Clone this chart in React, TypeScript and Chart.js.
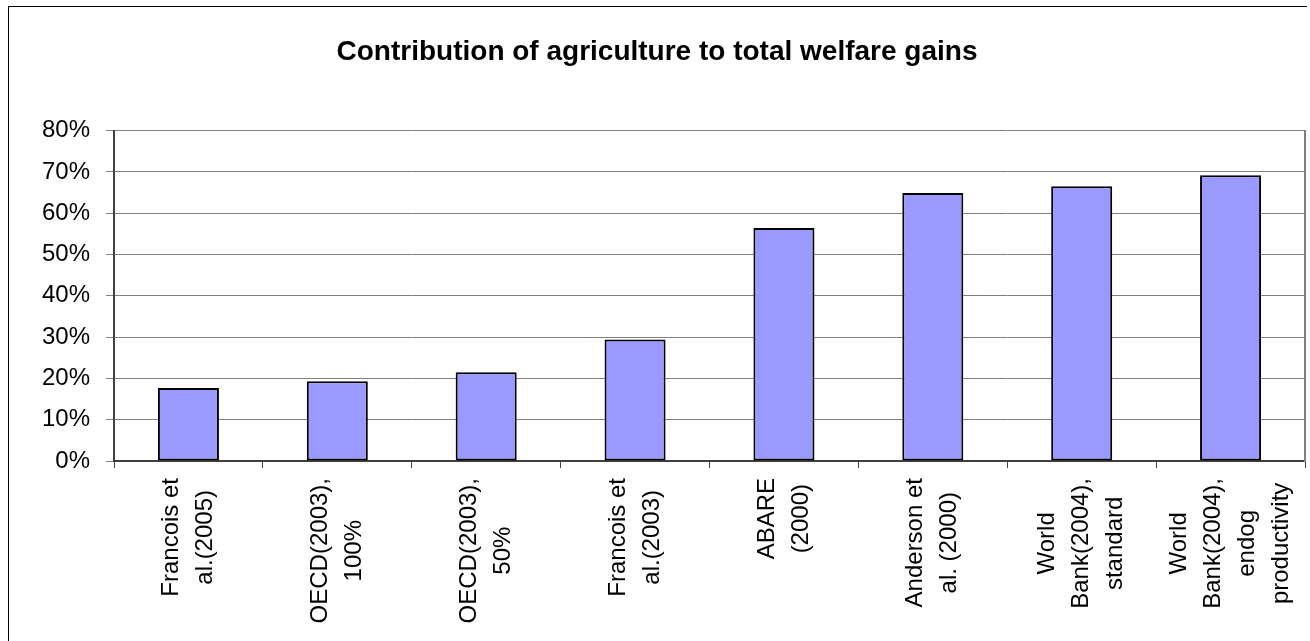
import React, { useEffect, useRef } from "react";
import { Chart, registerables } from "chart.js";

Chart.register(...registerables);

const FONT = "Arial, 'Liberation Sans', sans-serif";

const TITLE = "Contribution of agriculture to total welfare gains";

const categories: string[][] = [
  ["Francois et", "al.(2005)"],
  ["OECD(2003),", "100%"],
  ["OECD(2003),", "50%"],
  ["Francois et", "al.(2003)"],
  ["ABARE", "(2000)"],
  ["Anderson et", "al. (2000)"],
  ["World", "Bank(2004),", "standard"],
  ["World", "Bank(2004),", "endog", "productivity"],
];

const shares: number[] = [0.177, 0.193, 0.215, 0.294, 0.564, 0.649, 0.665, 0.692];

const yTicks: number[] = [0, 0.1, 0.2, 0.3, 0.4, 0.5, 0.6, 0.7, 0.8];

const centeredXLabels = {
  id: "centeredXLabels",
  afterDraw(chart: any) {
    const sc = chart.scales.x;
    const ctx = chart.ctx;
    const lineH = 34;
    ctx.save();
    ctx.font = `24px ${FONT}`;
    ctx.fillStyle = "#000";
    ctx.textAlign = "center";
    ctx.textBaseline = "middle";
    const labels = chart.data.labels as string[][];
    labels.forEach((lines, i) => {
      const x = sc.getPixelForTick(i);
      let maxW = 0;
      lines.forEach((l) => {
        maxW = Math.max(maxW, ctx.measureText(l).width);
      });
      ctx.save();
      ctx.translate(x, sc.top + 17 + maxW / 2);
      ctx.rotate(-Math.PI / 2);
      const n = lines.length;
      lines.forEach((l, j) => {
        ctx.fillText(l, 0, (j - (n - 1) / 2) * lineH);
      });
      ctx.restore();
    });
    ctx.restore();
  },
};

export default function App() {
  const ref = useRef<HTMLCanvasElement | null>(null);

  useEffect(() => {
    if (!ref.current) return;
    Chart.defaults.font.family = FONT;
    const chart = new Chart(ref.current, {
      type: "bar",
      data: {
        labels: categories,
        datasets: [
          {
            data: shares,
            backgroundColor: "#9999FF",
            borderColor: "#000000",
            borderWidth: 2,
            borderSkipped: false,
            barPercentage: 0.41,
            categoryPercentage: 1,
          },
        ],
      },
      options: {
        responsive: false,
        animation: false,
        devicePixelRatio: 1,
        layout: { padding: { left: 0, right: 2, top: 0, bottom: 0 } },
        plugins: {
          legend: { display: false },
          tooltip: { enabled: false },
          title: {
            display: true,
            text: TITLE,
            color: "#000",
            font: { family: FONT, size: 28, weight: "bold" },
            padding: { top: 28, bottom: 62 },
          },
        },
        scales: {
          x: {
            grid: {
              display: true,
              offset: true,
              drawOnChartArea: false,
              drawTicks: true,
              tickLength: 7,
              color: "#404040",
              lineWidth: 1,
            },
            border: { display: true, color: "#404040", width: 2 },
            ticks: { display: false },
            afterFit: (scale: any) => {
              scale.height = 186;
            },
          },
          y: {
            min: 0,
            max: 0.8,
            afterBuildTicks: (scale: any) => {
              scale.ticks = yTicks.map((v) => ({ value: v }));
            },
            ticks: {
              stepSize: 0.1,
              color: "#000",
              padding: 16,
              font: { family: FONT, size: 24 },
              callback: (v: any) => `${Math.round(Number(v) * 100)}%`,
            },
            grid: {
              color: "#808080",
              lineWidth: 1,
              drawTicks: true,
              tickLength: 8,
            },
            border: { display: true, color: "#404040", width: 2 },
            afterFit: (scale: any) => {
              scale.width = 105;
            },
          },
          y2: {
            position: "right",
            min: 0,
            max: 0.8,
            grid: { display: false, drawTicks: false },
            ticks: { display: false },
            border: { display: true, color: "#808080", width: 2 },
            afterFit: (scale: any) => {
              scale.width = 0;
            },
          },
        },
      },
      plugins: [centeredXLabels],
    });
    return () => chart.destroy();
  }, []);

  return (
    <div
      style={{
        position: "fixed",
        inset: 0,
        overflow: "hidden",
        background: "#fff",
      }}
    >
      <div
        style={{
          position: "absolute",
          left: 8,
          top: 6,
          width: 1298,
          height: 650,
          borderLeft: "1px solid #000",
          borderTop: "1px solid #000",
        }}
      >
        <canvas
          ref={ref}
          width={1298}
          height={640}
          style={{ display: "block", width: 1298, height: 640 }}
        />
      </div>
    </div>
  );
}
